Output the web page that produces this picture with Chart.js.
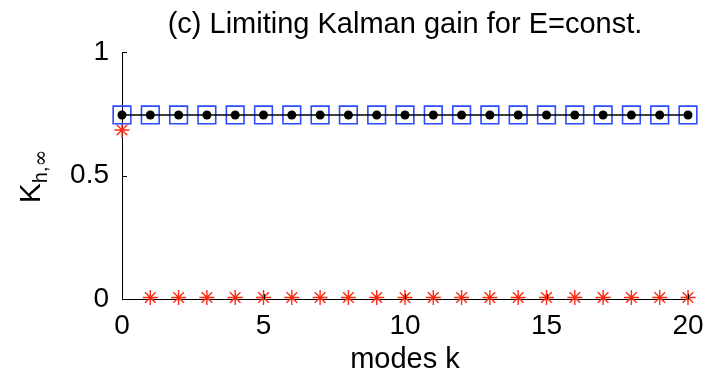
<!DOCTYPE html>
<html>
<head>
<meta charset="utf-8">
<title>Limiting Kalman gain</title>
<script src="https://cdn.jsdelivr.net/npm/chart.js@4.4.1/dist/chart.umd.min.js"></script>
<style>
  html, body { margin: 0; padding: 0; background: #ffffff; }
  #wrap { width: 709px; height: 377px; position: relative; }
</style>
</head>
<body>
<div id="wrap"><canvas id="gainChart" width="709" height="377"></canvas></div>
<script>
// --- chart data ---
const modes = [0, 1, 2, 3, 4, 5, 6, 7, 8, 9, 10, 11, 12, 13, 14, 15, 16, 17, 18, 19, 20];
const gainDots = [0.745, 0.745, 0.745, 0.745, 0.745, 0.745, 0.745, 0.745, 0.745, 0.745, 0.745,
                  0.745, 0.745, 0.745, 0.745, 0.745, 0.745, 0.745, 0.745, 0.745, 0.745];
const gainSquares = [0.745, 0.745, 0.745, 0.745, 0.745, 0.745, 0.745, 0.745, 0.745, 0.745, 0.745,
                     0.745, 0.745, 0.745, 0.745, 0.745, 0.745, 0.745, 0.745, 0.745, 0.745];
const gainStars = [0.684, 0.006, 0.006, 0.006, 0.006, 0.006, 0.006, 0.006, 0.006, 0.006, 0.006,
                   0.006, 0.006, 0.006, 0.006, 0.006, 0.006, 0.006, 0.006, 0.006, 0.006];
const xTicks = [0, 5, 10, 15, 20];
const yTicks = [0, 0.5, 1];

const FONT = '"Liberation Sans", Arial, Helvetica, sans-serif';

function toPoints(values) {
    return modes.map(function(k, i) { return { x: k, y: values[i] }; });
}

// Title, rotated y label with subscript, and MATLAB-style inward ticks
const decorPlugin = {
    id: 'decor',
    afterDraw: function(chart) {
        const ctx = chart.ctx;
        const area = chart.chartArea;
        const xs = chart.scales.x;
        const ys = chart.scales.y;
        ctx.save();

        // inward tick marks
        ctx.strokeStyle = '#000';
        ctx.lineWidth = 1;
        ctx.beginPath();
        xTicks.forEach(function(v) {
            const px = Math.round(xs.getPixelForValue(v)) + 0.5;
            ctx.moveTo(px, area.bottom);
            ctx.lineTo(px, area.bottom - 5);
        });
        yTicks.forEach(function(v) {
            const py = Math.round(ys.getPixelForValue(v)) + 0.5;
            ctx.moveTo(area.left, py);
            ctx.lineTo(area.left + 5, py);
        });
        ctx.stroke();

        // title
        ctx.fillStyle = '#000';
        ctx.font = '29px ' + FONT;
        ctx.textAlign = 'center';
        ctx.textBaseline = 'alphabetic';
        ctx.fillText('(c) Limiting Kalman gain for E=const.', (area.left + area.right) / 2, 33);

        // y label: K_{h,∞}
        const bigFont = '30px ' + FONT;
        const subFont = '20px ' + FONT;
        const infFont = '20px "DejaVu Serif", "Liberation Serif", serif';
        ctx.font = bigFont;
        const wK = ctx.measureText('K').width;
        ctx.font = subFont;
        const wH = ctx.measureText('h,').width;
        ctx.font = infFont;
        const wInf = ctx.measureText('\u221e').width;
        const total = wK + wH + wInf;
        ctx.translate(40, (area.top + area.bottom) / 2 + 1);
        ctx.rotate(-Math.PI / 2);
        ctx.textAlign = 'left';
        let cx = -total / 2;
        ctx.font = bigFont;
        ctx.fillText('K', cx, 0);
        cx += wK;
        ctx.font = subFont;
        ctx.fillText('h,', cx, 7);
        cx += wH;
        ctx.font = infFont;
        ctx.fillText('\u221e', cx, 7);

        ctx.restore();
    }
};

const ctx = document.getElementById('gainChart').getContext('2d');
new Chart(ctx, {
    type: 'line',
    data: {
        datasets: [
            {
                label: 'dots',
                data: toPoints(gainDots),
                borderColor: '#000000',
                backgroundColor: '#000000',
                borderWidth: 1.5,
                pointStyle: 'circle',
                pointRadius: 4.5,
                pointBorderWidth: 0,
                showLine: true,
                clip: false,
                order: 0
            },
            {
                label: 'squares',
                data: toPoints(gainSquares),
                borderColor: '#2a4bff',
                backgroundColor: 'rgba(0,0,0,0)',
                pointStyle: 'rect',
                pointRadius: 12.5,
                pointBorderWidth: 1.6,
                showLine: false,
                clip: false,
                order: 1
            },
            {
                label: 'stars',
                data: toPoints(gainStars),
                borderColor: '#ff2a10',
                backgroundColor: '#ff2a10',
                pointStyle: 'star',
                pointRadius: 7.5,
                pointBorderWidth: 1.4,
                showLine: false,
                clip: false,
                order: 2
            }
        ]
    },
    options: {
        responsive: false,
        animation: false,
        layout: { padding: { top: 52, right: 21, left: 0, bottom: 0 } },
        plugins: {
            legend: { display: false },
            tooltip: { enabled: false },
            title: { display: false }
        },
        scales: {
            x: {
                type: 'linear',
                min: 0,
                max: 20,
                afterFit: function(scale) { scale.height = 78; },
                afterBuildTicks: function(scale) {
                    scale.ticks = xTicks.map(function(v) { return { value: v }; });
                },
                grid: { display: false },
                border: { display: true, color: '#000', width: 1 },
                ticks: {
                    color: '#000',
                    padding: 2,
                    maxRotation: 0,
                    font: { family: FONT, size: 28 }
                },
                title: {
                    display: true,
                    text: 'modes k',
                    color: '#000',
                    padding: { top: 0, bottom: 0 },
                    font: { family: FONT, size: 29 }
                }
            },
            y: {
                type: 'linear',
                min: 0,
                max: 1,
                afterFit: function(scale) { scale.width = 122; },
                afterBuildTicks: function(scale) {
                    scale.ticks = yTicks.map(function(v) { return { value: v }; });
                },
                grid: { display: false },
                border: { display: true, color: '#000', width: 1 },
                ticks: {
                    color: '#000',
                    padding: 5,
                    font: { family: FONT, size: 28 },
                    callback: function(v) { return String(v); }
                }
            }
        }
    },
    plugins: [decorPlugin]
});
</script>
</body>
</html>
